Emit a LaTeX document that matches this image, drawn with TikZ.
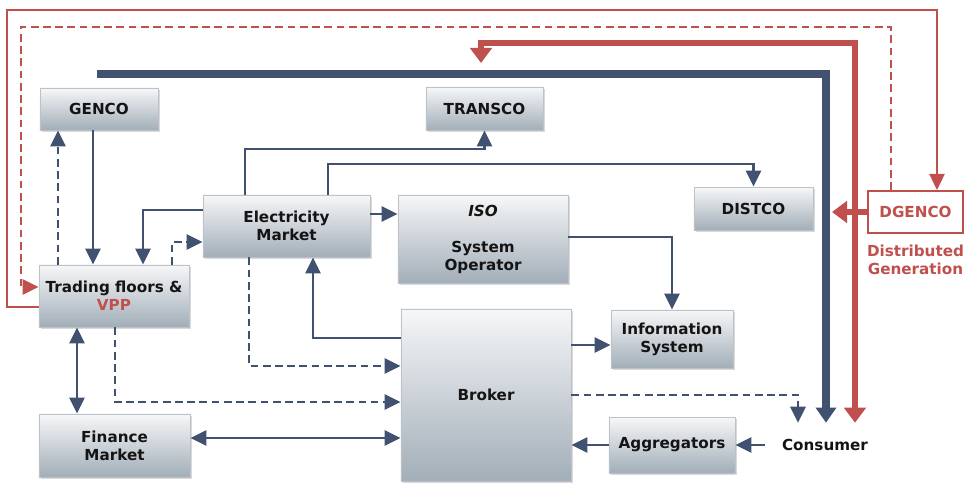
\documentclass[tikz,border=0pt]{standalone}
\usepackage{fontspec}
\setmainfont{DejaVu Sans}
\usepackage{tikz}
\usetikzlibrary{arrows.meta,shadows,positioning}

\definecolor{linkblue}{RGB}{64,82,112}
\definecolor{dgred}{RGB}{192,80,77}
\definecolor{boxtop}{RGB}{246,247,248}
\definecolor{boxbot}{RGB}{162,174,184}
\definecolor{boxline}{RGB}{188,194,200}

\begin{document}
\begin{tikzpicture}[x=0.025cm, y=-0.025cm,
    every node/.style={font=\fontsize{10.8}{12.8}\selectfont\bfseries, align=center, text=black!92},
    block/.style={draw=boxline, line width=0.6pt, top color=boxtop, bottom color=boxbot,
        drop shadow={opacity=0.3, shadow xshift=1.6pt, shadow yshift=-1.6pt}},
    tip/.style={-{Triangle[length=4mm,width=3.8mm]}},
    link/.style={draw=linkblue, line width=1.6pt, tip},
    dlink/.style={link, dash pattern=on 5.5pt off 3.2pt},
    bus/.style={draw=linkblue, line width=5pt, -{Triangle[length=3.8mm,width=5mm]}},
    redlink/.style={draw=dgred, line width=1.4pt, tip},
    redbus/.style={draw=dgred, line width=4.6pt, -{Triangle[length=3.8mm,width=5.4mm]}}]
        \useasboundingbox (0,0) rectangle (969,482);

        % Blocchi
        \node[block, minimum width=2.95cm, minimum height=1.05cm] (GENCO) at (99,109) {GENCO};
        \node[block, minimum width=2.925cm, minimum height=1.075cm] (TRANSCO) at (484.5,108.5) {TRANSCO};
        \node[block, minimum width=2.975cm, minimum height=1.075cm] (DISTCO) at (753.5,208.5) {DISTCO};
        \node[draw=dgred, line width=1.5pt, fill=white, text=dgred, minimum width=2.375cm, minimum height=1.05cm] (DGENCO) at (915.5,212) {DGENCO};
        \node[text=dgred] (DG) at (915.5,260) {Distributed\\Generation};
        \node[block, minimum width=4.175cm, minimum height=1.55cm] (EM) at (286.5,226) {Electricity\\Market};
        \node[block, minimum width=4.25cm, minimum height=2.2cm] (ISO) at (483,239) {\textit{ISO}\\[12.8pt]System\\Operator};
        \node[block, minimum width=3.75cm, minimum height=1.55cm] (Trading) at (114,296) {Trading floors \&\\\textcolor{dgred}{VPP}};
        \node[block, minimum width=3.775cm, minimum height=1.575cm] (Finance) at (114.5,445.5) {Finance\\Market};
        \node[block, minimum width=4.25cm, minimum height=4.3cm] (Broker) at (486,395) {Broker};
        \node[block, minimum width=3.05cm, minimum height=1.45cm] (InfoSys) at (672,339) {Information\\System};
        \node[block, minimum width=3.15cm, minimum height=1.4cm] (Aggregators) at (672,445) {Aggregators};
        \node[minimum width=3cm, minimum height=1.1cm] (Consumer) at (825,445) {Consumer};

        \coordinate (gridW) at (97,74);
        \coordinate (feedin) at (481,63);
        \coordinate (gridE) at (832,212);

        % Linee di potenza
        \draw[bus] (gridW) -| (Consumer.north -| 826,0);
        \draw[redbus, {Triangle[length=3.8mm,width=5.4mm]}-{Triangle[length=3.8mm,width=5.4mm]}]
            (feedin) |- (855,43) -- (Consumer.north -| 855,0);
        \draw[redbus] (DGENCO.west) -- (gridE);

        % Collegamenti DGENCO
        \draw[redlink] (Trading.west |- 0,307) -| (7,10) -| (DGENCO.north -| 937,0);
        \draw[redlink, dash pattern=on 5.5pt off 3.2pt] (DGENCO.north -| 891,0) |- (21,27) |- (Trading.west |- 0,287);

        % Collegamenti
        \draw[link] (GENCO.south -| 93,0) -- (Trading.north -| 93,0);
        \draw[dlink] (Trading.north -| 58,0) -- (GENCO.south -| 58,0);
        \draw[link] (EM.west |- 0,210) -| (Trading.north -| 143,0);
        \draw[dlink] (Trading.north -| 172,0) |- (EM.west |- 0,242);
        \draw[link] (EM.north -| 245,0) |- (TRANSCO.south |- 0,149) -- (TRANSCO.south);
        \draw[link] (EM.north -| 328,0) |- (DISTCO.north |- 0,164) -- (DISTCO.north);
        \draw[link] (EM.east |- 0,214) -- (ISO.west |- 0,214);
        \draw[link] (ISO.east |- 0,237) -| (InfoSys.north);
        \draw[link] (Broker.west |- 0,338) -| (EM.south -| 313,0);
        \draw[dlink] (EM.south -| 249,0) |- (Broker.west |- 0,366);
        \draw[dlink] (Trading.south -| 115,0) |- (Broker.west |- 0,402);
        \draw[link, {Triangle[length=4mm,width=3.8mm]}-{Triangle[length=4mm,width=3.8mm]}] (Finance.east |- 0,438) -- (Broker.west |- 0,438);
        \draw[link, {Triangle[length=4mm,width=3.8mm]}-{Triangle[length=4mm,width=3.8mm]}] (Trading.south -| 77,0) -- (Finance.north -| 77,0);
        \draw[link] (Broker.east |- 0,345) -- (InfoSys.west |- 0,345);
        \draw[dlink] (Broker.east |- 0,395) -| (Consumer.north -| 798,0);
        \draw[link] (Aggregators.west) -- (Broker.east |- Aggregators.west);
        \draw[link] (Consumer.west) -- (Aggregators.east);
\end{tikzpicture}
\end{document}
